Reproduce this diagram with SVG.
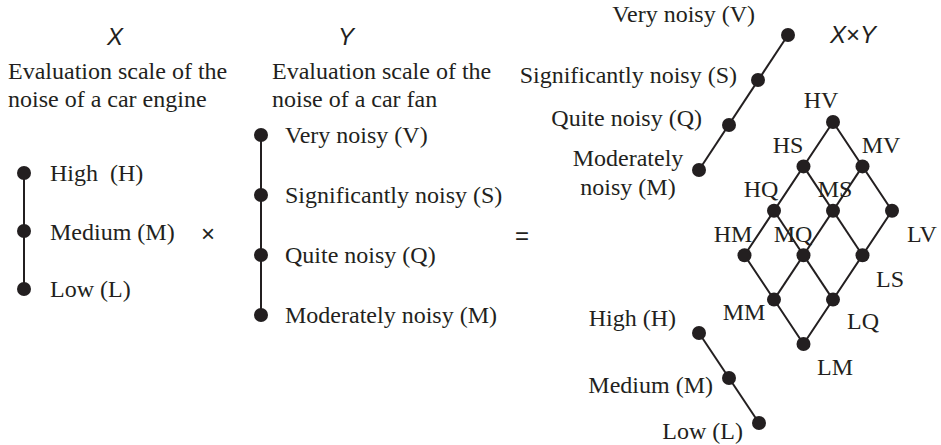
<svg xmlns="http://www.w3.org/2000/svg" width="941" height="445" viewBox="0 0 941 445">
<style>
text{font-family:"Liberation Serif","Times New Roman",serif;font-size:24px;fill:#231f20}
.s{font-family:"Liberation Sans",Arial,sans-serif}
.i{font-style:italic}
.e{text-anchor:end}
.m{text-anchor:middle}
.dot{fill:#231f20}
.ln{stroke:#231f20;stroke-width:2;fill:none}
</style>
<rect width="941" height="445" fill="#fff"/>
<g id="headers">
<text class="s i m" x="115" y="45" font-size="24">X</text>
<text class="s i m" x="346" y="45" font-size="24">Y</text>
<text x="8" y="79">Evaluation scale of the</text>
<text x="8" y="107">noise of a car engine</text>
<text x="272" y="79">Evaluation scale of the</text>
<text x="272" y="107">noise of a car fan</text>
<text class="s m" x="208" y="242" font-size="24">×</text>
<text class="s m" x="522" y="244" font-size="22">=</text>
<text class="s i" x="830" y="43" font-size="20">X<tspan font-style="normal">×</tspan>Y</text>
</g>
<g id="connectors" class="ln">
<line x1="24" y1="173" x2="24" y2="289"/>
<line x1="261" y1="135" x2="261" y2="315"/>
<line x1="788" y1="35" x2="699" y2="170"/>
<line x1="699" y1="333" x2="759" y2="423"/>
<polyline points="833,122 744.5,255.2 803.5,344 892,210.8 833,122"/>
<line x1="862.5" y1="166.4" x2="774" y2="299.6"/>
<line x1="803.5" y1="166.4" x2="862.5" y2="255.2"/>
<line x1="774" y1="210.8" x2="833" y2="299.6"/>
</g>
<g id="scaleX">
<circle class="dot" cx="24" cy="173" r="7"/><text x="50" y="181" xml:space="preserve">High  (H)</text>
<circle class="dot" cx="24" cy="231" r="7"/><text x="50" y="240">Medium (M)</text>
<circle class="dot" cx="24" cy="289" r="7"/><text x="50" y="297">Low (L)</text>
</g>
<g id="scaleY">
<circle class="dot" cx="261" cy="135" r="7"/><text x="285" y="143">Very noisy (V)</text>
<circle class="dot" cx="261" cy="195" r="7"/><text x="285" y="203">Significantly noisy (S)</text>
<circle class="dot" cx="261" cy="255" r="7"/><text x="285" y="263">Quite noisy (Q)</text>
<circle class="dot" cx="261" cy="315" r="7"/><text x="285" y="323">Moderately noisy (M)</text>
</g>
<g id="chainY">
<circle class="dot" cx="788" cy="35" r="7"/><text class="e" x="755" y="22">Very noisy (V)</text>
<circle class="dot" cx="758" cy="80" r="7"/><text class="e" x="737" y="83">Significantly noisy (S)</text>
<circle class="dot" cx="729" cy="125" r="7"/><text class="e" x="702" y="126">Quite noisy (Q)</text>
<circle class="dot" cx="699" cy="170" r="7"/><text class="m" x="628" y="166">Moderately</text><text class="m" x="628" y="195">noisy (M)</text>
</g>
<g id="chainX">
<circle class="dot" cx="699" cy="333" r="7"/><text class="e" x="676" y="326">High (H)</text>
<circle class="dot" cx="729" cy="378" r="7"/><text class="e" x="713" y="393">Medium (M)</text>
<circle class="dot" cx="759" cy="423" r="7"/><text class="e" x="743" y="439">Low (L)</text>
</g>
<g id="HV"><circle class="dot" cx="833" cy="122" r="7"/><text class="m" x="821" y="108">HV</text></g>
<g id="HS"><circle class="dot" cx="803.5" cy="166.4" r="7"/><text class="m" x="788" y="153">HS</text></g>
<g id="MV"><circle class="dot" cx="862.5" cy="166.4" r="7"/><text class="m" x="881" y="153">MV</text></g>
<g id="HQ"><circle class="dot" cx="774" cy="210.8" r="7"/><text class="m" x="761" y="197">HQ</text></g>
<g id="MS"><circle class="dot" cx="833" cy="210.8" r="7"/><text class="m" x="835" y="197">MS</text></g>
<g id="LV"><circle class="dot" cx="892" cy="210.8" r="7"/><text class="m" x="922" y="242">LV</text></g>
<g id="HM"><circle class="dot" cx="744.5" cy="255.2" r="7"/><text class="m" x="733" y="242">HM</text></g>
<g id="MQ"><circle class="dot" cx="803.5" cy="255.2" r="7"/><text class="m" x="793" y="242">MQ</text></g>
<g id="LS"><circle class="dot" cx="862.5" cy="255.2" r="7"/><text class="m" x="890" y="287">LS</text></g>
<g id="MM"><circle class="dot" cx="774" cy="299.6" r="7"/><text class="m" x="744" y="320">MM</text></g>
<g id="LQ"><circle class="dot" cx="833" cy="299.6" r="7"/><text class="m" x="863" y="329">LQ</text></g>
<g id="LM"><circle class="dot" cx="803.5" cy="344" r="7"/><text class="m" x="835" y="375">LM</text></g>
</svg>
